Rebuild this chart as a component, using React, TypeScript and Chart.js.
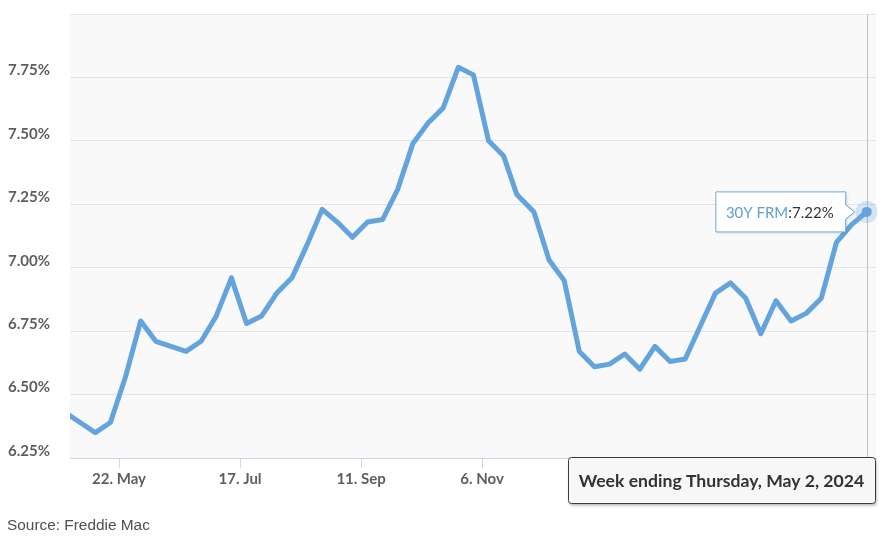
import React, { useEffect, useRef } from 'react';
import { Chart, registerables } from 'chart.js';

Chart.register(...registerables);

// ---- Data ----
const seriesName = '30Y FRM';
const weekDates = [
  '2023-04-27', '2023-05-04', '2023-05-11', '2023-05-18', '2023-05-25',
  '2023-06-01', '2023-06-08', '2023-06-15', '2023-06-22', '2023-06-29',
  '2023-07-06', '2023-07-13', '2023-07-20', '2023-07-27', '2023-08-03',
  '2023-08-10', '2023-08-17', '2023-08-24', '2023-08-31', '2023-09-07',
  '2023-09-14', '2023-09-21', '2023-09-28', '2023-10-05', '2023-10-12',
  '2023-10-19', '2023-10-26', '2023-11-02', '2023-11-09', '2023-11-16',
  '2023-11-22', '2023-11-30', '2023-12-07', '2023-12-14', '2023-12-21',
  '2023-12-28', '2024-01-04', '2024-01-11', '2024-01-18', '2024-01-25',
  '2024-02-01', '2024-02-08', '2024-02-15', '2024-02-22', '2024-02-29',
  '2024-03-07', '2024-03-14', '2024-03-21', '2024-03-28', '2024-04-04',
  '2024-04-11', '2024-04-18', '2024-04-25', '2024-05-02',
];
const rates30y = [
  6.43, 6.39, 6.35, 6.39, 6.57,
  6.79, 6.71, 6.69, 6.67, 6.71,
  6.81, 6.96, 6.78, 6.81, 6.90,
  6.96, 7.09, 7.23, 7.18, 7.12,
  7.18, 7.19, 7.31, 7.49, 7.57,
  7.63, 7.79, 7.76, 7.50, 7.44,
  7.29, 7.22, 7.03, 6.95, 6.67,
  6.61, 6.62, 6.66, 6.60, 6.69,
  6.63, 6.64, 6.77, 6.90, 6.94,
  6.88, 6.74, 6.87, 6.79, 6.82,
  6.88, 7.10, 7.17, 7.22,
];
const xTickDates = ['2023-05-22', '2023-07-17', '2023-09-11', '2023-11-06'];
const xTickLabels = ['22. May', '17. Jul', '11. Sep', '6. Nov'];
const yTickValues = [6.25, 6.5, 6.75, 7.0, 7.25, 7.5, 7.75, 8.0];
const yHiddenLabels = [8.0];
const axisStartDay = 2.3; // days after first week
const axisEndDay = 375.3;
const sourceText = 'Source: Freddie Mac';

// ---- Helpers ----
const DAY = 86400000;
const toUTC = (s: string) => {
  const [y, m, d] = s.split('-').map(Number);
  return Date.UTC(y, m - 1, d);
};
const origin = toUTC(weekDates[0]);
const dayOf = (s: string) => (toUTC(s) - origin) / DAY;

const LINE = '#63a3de';
const FONT = 'Lato, "Open Sans", sans-serif';

const overlayPlugin = {
  id: 'overlay',
  beforeDraw(chart: any) {
    const { ctx, chartArea: a } = chart;
    ctx.save();
    ctx.fillStyle = '#f9f9f9';
    ctx.fillRect(a.left, a.top, a.right - a.left, a.bottom - a.top);
    ctx.restore();
  },
  beforeDatasetsDraw(chart: any) {
    const { ctx, chartArea: a } = chart;
    const meta = chart.getDatasetMeta(0);
    const el = meta.data[meta.data.length - 1];
    ctx.save();
    ctx.strokeStyle = '#c2c2c2';
    ctx.lineWidth = 1;
    ctx.beginPath();
    ctx.moveTo(Math.round(el.x) + 0.5, a.top);
    ctx.lineTo(Math.round(el.x) + 0.5, a.bottom);
    ctx.stroke();
    ctx.restore();
  },
  afterDraw(chart: any) {
    const { ctx, chartArea: a } = chart;
    const meta = chart.getDatasetMeta(0);
    const last = meta.data.length - 1;
    const el = meta.data[last];
    const px = el.x;
    const py = el.y;
    ctx.save();
    // halo + marker
    ctx.fillStyle = 'rgba(99,163,222,0.25)';
    ctx.beginPath();
    ctx.arc(px, py, 11, 0, Math.PI * 2);
    ctx.fill();
    ctx.fillStyle = LINE;
    ctx.beginPath();
    ctx.arc(px, py, 5, 0, Math.PI * 2);
    ctx.fill();

    // tooltip
    ctx.font = `15px ${FONT}`;
    const t1 = seriesName;
    const t2 = ':' + rates30y[last].toFixed(2) + '%';
    const w1 = ctx.measureText(t1).width;
    const w2 = ctx.measureText(t2).width;
    const tip = px - 12;
    const R = tip - 9;
    const W = w1 + w2 + 22;
    const L = R - W;
    const H = 40;
    const T = py - H / 2;
    const B = T + H;
    ctx.beginPath();
    ctx.moveTo(L, T);
    ctx.lineTo(R, T);
    ctx.lineTo(R, py - 7);
    ctx.lineTo(tip, py);
    ctx.lineTo(R, py + 7);
    ctx.lineTo(R, B);
    ctx.lineTo(L, B);
    ctx.closePath();
    ctx.shadowColor = 'rgba(0,0,0,0.15)';
    ctx.shadowOffsetX = 1;
    ctx.shadowOffsetY = 1;
    ctx.shadowBlur = 3;
    ctx.fillStyle = '#ffffff';
    ctx.fill();
    ctx.shadowColor = 'transparent';
    ctx.strokeStyle = '#6ea8df';
    ctx.lineWidth = 1;
    ctx.stroke();
    ctx.textBaseline = 'middle';
    ctx.textAlign = 'left';
    ctx.fillStyle = '#5f9fd9';
    ctx.fillText(t1, L + 10, py + 1);
    ctx.fillStyle = '#333333';
    ctx.fillText(t2, L + 10 + w1, py + 1);

    // week ending box
    const dateStr = new Date(toUTC(weekDates[last])).toLocaleDateString('en-US', {
      weekday: 'long', month: 'long', day: 'numeric', year: 'numeric', timeZone: 'UTC',
    });
    const label = 'Week ending ' + dateStr;
    ctx.font = `bold 17.6px ${FONT}`;
    const bw = 307;
    const bh = 46;
    const bx = chart.width - 10 - bw;
    const by = a.bottom - 1;
    ctx.beginPath();
    ctx.roundRect(bx + 0.5, by + 0.5, bw, bh, 3);
    ctx.shadowColor = 'rgba(0,0,0,0.3)';
    ctx.shadowOffsetX = 1;
    ctx.shadowOffsetY = 2;
    ctx.shadowBlur = 3;
    ctx.fillStyle = '#f7f7f7';
    ctx.fill();
    ctx.shadowColor = 'transparent';
    ctx.strokeStyle = '#3a3a3a';
    ctx.lineWidth = 1;
    ctx.stroke();
    ctx.fillStyle = '#333333';
    ctx.textAlign = 'center';
    ctx.textBaseline = 'middle';
    ctx.fillText(label, bx + bw / 2, by + bh / 2 + 1);
    ctx.restore();
  },
};

export default function App() {
  const ref = useRef<HTMLCanvasElement>(null);

  useEffect(() => {
    if (!ref.current) return;
    const xTickValues = xTickDates.map(dayOf);
    const chart = new Chart(ref.current, {
      type: 'line',
      data: {
        datasets: [
          {
            label: seriesName,
            data: weekDates.map((d, i) => ({ x: dayOf(d), y: rates30y[i] })),
            borderColor: LINE,
            borderWidth: 5,
            pointRadius: 0,
            tension: 0,
            borderJoinStyle: 'round',
            borderCapStyle: 'round',
            clip: { left: 0, right: false, top: false, bottom: false } as any,
          },
        ],
      },
      options: {
        responsive: false,
        animation: false,
        events: [],
        layout: { padding: { left: 8, top: 14, right: 9, bottom: 0 } },
        plugins: { legend: { display: false }, tooltip: { enabled: false } },
        scales: {
          x: {
            type: 'linear',
            min: axisStartDay,
            max: axisEndDay,
            afterBuildTicks: (s: any) => {
              s.ticks = xTickValues.map((v) => ({ value: v }));
            },
            afterFit: (s: any) => {
              s.height = 92;
            },
            grid: { drawOnChartArea: false, drawTicks: true, tickLength: 10, color: '#ccd6eb' },
            border: { color: '#ccd6eb' },
            ticks: {
              autoSkip: false,
              maxRotation: 0,
              padding: 2,
              color: '#5e5e5e',
              font: { family: FONT, size: 15, weight: 'bold' },
              callback: (v: any) => {
                const i = xTickValues.findIndex((t) => Math.abs(t - v) < 0.01);
                return i >= 0 ? xTickLabels[i] : '';
              },
            },
          },
          y: {
            min: yTickValues[0],
            max: yTickValues[yTickValues.length - 1],
            afterBuildTicks: (s: any) => {
              s.ticks = yTickValues.map((v) => ({ value: v }));
            },
            afterFit: (s: any) => {
              s.width = 62;
            },
            grid: { color: '#e4e4e4', drawTicks: false },
            border: { display: false },
            ticks: {
              crossAlign: 'far',
              labelOffset: -7,
              padding: 0,
              color: '#5e5e5e',
              font: { family: FONT, size: 15, weight: 'bold' },
              callback: (v: any) =>
                yHiddenLabels.some((h) => Math.abs(h - v) < 1e-6) ? '' : Number(v).toFixed(2) + '%',
            },
          },
        },
      },
      plugins: [overlayPlugin],
    } as any);
    return () => chart.destroy();
  }, []);

  return (
    <div style={{ position: 'fixed', left: 0, top: 0, width: 885, height: 550, background: '#fff' }}>
      <canvas ref={ref} width={885} height={550} style={{ display: 'block' }} />
      <div
        style={{
          position: 'absolute',
          left: 7,
          top: 515,
          fontFamily: '"Liberation Sans", Arial, sans-serif',
          fontSize: 15.4,
          lineHeight: '19px',
          color: '#4f4f4f',
        }}
      >
        {sourceText}
      </div>
    </div>
  );
}
